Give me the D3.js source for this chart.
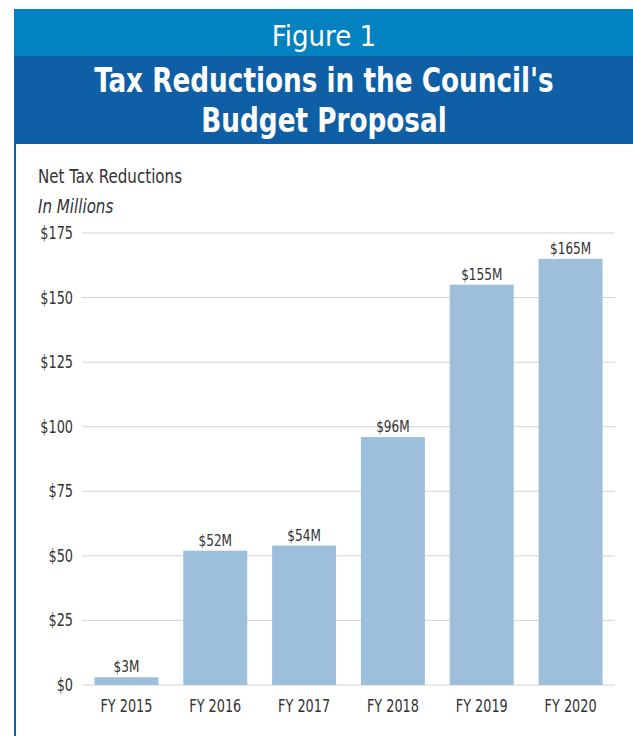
<!DOCTYPE html>
<html>
<head>
<meta charset="utf-8">
<script src="https://cdn.jsdelivr.net/npm/d3@7"></script>
<style>
  body { margin: 0; background: #fff; }
</style>
</head>
<body>
<div id="chart"></div>
<script>
// Chart data
const years = ["FY 2015", "FY 2016", "FY 2017", "FY 2018", "FY 2019", "FY 2020"];
const reductions = [3, 52, 54, 96, 155, 165];
const valueLabels = ["$3M", "$52M", "$54M", "$96M", "$155M", "$165M"];
const yTicks = [0, 25, 50, 75, 100, 125, 150, 175];

const W = 633, H = 736;
const narrow = "'Liberation Sans Narrow', 'DejaVu Sans Condensed', 'Arial Narrow', sans-serif";
const squeeze = 0.84; // fake a condensed face

const svg = d3.select("#chart")
  .append("svg")
  .attr("width", W)
  .attr("height", H);

// Header boxes
svg.append("rect").attr("x", 14).attr("y", 9).attr("width", W - 14).attr("height", 47).attr("fill", "#0282c0");
svg.append("rect").attr("x", 14).attr("y", 56).attr("width", W - 14).attr("height", 88).attr("fill", "#0e5fa5");
// left border
svg.append("rect").attr("x", 14).attr("y", 144).attr("width", 2).attr("height", H - 144).attr("fill", "#0e5fa5");

svg.append("text")
  .attr("x", 324).attr("y", 46)
  .attr("text-anchor", "middle")
  .attr("fill", "#fff")
  .style("font-family", narrow)
  .style("font-size", "29px")
  .text("Figure 1");

const titleLines = ["Tax Reductions in the Council's", "Budget Proposal"];
svg.append("g")
  .attr("transform", "translate(324,0) scale(0.86,1)")
  .selectAll("text")
  .data(titleLines)
  .enter()
  .append("text")
  .attr("x", 0)
  .attr("y", (d, i) => 92 + i * 40)
  .attr("text-anchor", "middle")
  .attr("fill", "#fff")
  .style("font-family", narrow)
  .style("font-weight", "bold")
  .style("font-size", "34px")
  .text(d => d);

// Scales
const x = d3.scaleBand()
  .domain(years)
  .range([82, 615])
  .paddingInner(0.28)
  .paddingOuter(0.14);

const y = d3.scaleLinear()
  .domain([0, 175])
  .range([685, 233]);

// Gridlines
svg.append("g")
  .selectAll("line")
  .data(yTicks)
  .enter()
  .append("line")
  .attr("x1", 82)
  .attr("x2", 615)
  .attr("y1", d => y(d))
  .attr("y2", d => y(d))
  .attr("stroke", "#d4d4d4")
  .attr("stroke-width", 1);

// Y labels
svg.append("g")
  .selectAll("text")
  .data(yTicks)
  .enter()
  .append("text")
  .attr("transform", d => `translate(73,${y(d) + 6}) scale(${squeeze},1)`)
  .attr("text-anchor", "end")
  .attr("fill", "#333")
  .style("font-family", narrow)
  .style("font-size", "17px")
  .text(d => "$" + d);

// Axis title
svg.append("text")
  .attr("transform", `translate(38,183) scale(${squeeze},1)`)
  .attr("fill", "#333")
  .style("font-family", narrow)
  .style("font-size", "20px")
  .text("Net Tax Reductions");
svg.append("text")
  .attr("transform", `translate(38,213) scale(${squeeze},1)`)
  .attr("fill", "#333")
  .style("font-family", narrow)
  .style("font-style", "italic")
  .style("font-size", "20px")
  .text("In Millions");

// Bars
svg.append("g")
  .selectAll("rect")
  .data(reductions)
  .enter()
  .append("rect")
  .attr("x", (d, i) => x(years[i]))
  .attr("y", d => y(d))
  .attr("width", x.bandwidth())
  .attr("height", d => y(0) - y(d))
  .attr("fill", "#9dbfdc");

// Value labels
svg.append("g")
  .selectAll("text")
  .data(reductions)
  .enter()
  .append("text")
  .attr("transform", (d, i) => `translate(${x(years[i]) + x.bandwidth() / 2},${y(d) - 5}) scale(${squeeze},1)`)
  .attr("text-anchor", "middle")
  .attr("fill", "#333")
  .style("font-family", narrow)
  .style("font-size", "16px")
  .text((d, i) => valueLabels[i]);

// X labels
svg.append("g")
  .selectAll("text")
  .data(years)
  .enter()
  .append("text")
  .attr("transform", d => `translate(${x(d) + x.bandwidth() / 2},712) scale(${squeeze},1)`)
  .attr("text-anchor", "middle")
  .attr("fill", "#333")
  .style("font-family", narrow)
  .style("font-size", "17px")
  .text(d => d);
</script>
</body>
</html>
